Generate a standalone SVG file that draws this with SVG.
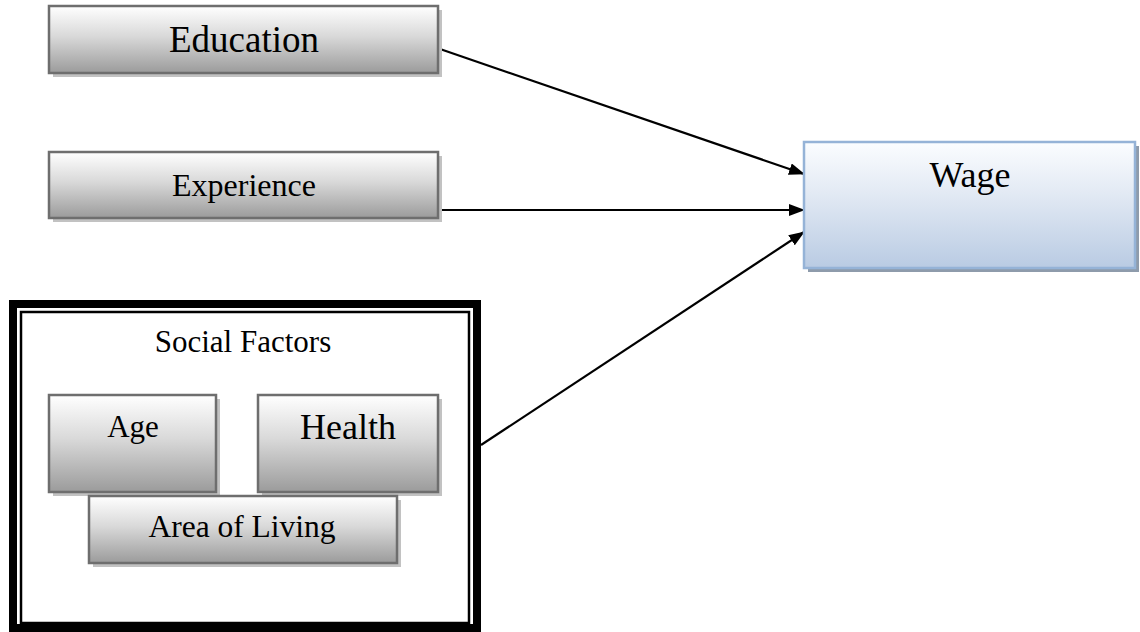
<svg xmlns="http://www.w3.org/2000/svg" width="1140" height="632" viewBox="0 0 1140 632">
<style>
.box{fill:url(#grey);stroke:#6e6e6e;stroke-width:2.5}
.shadow{fill:#c2c2c2}
.wage{fill:url(#blue);stroke:#95b3d7;stroke-width:2.5}
.wshadow{fill:#8e9bab}
text{font-family:"Liberation Serif","Times New Roman",serif;fill:#000;text-anchor:middle}
.conn{stroke:#000;stroke-width:2.2;fill:none;marker-end:url(#arrow)}
</style>
<defs>
<linearGradient id="grey" x1="0" y1="0" x2="0" y2="1">
<stop offset="0" stop-color="#ffffff"/>
<stop offset="0.45" stop-color="#d9d9d9"/>
<stop offset="1" stop-color="#9b9b9b"/>
</linearGradient>
<linearGradient id="blue" x1="0" y1="0" x2="0" y2="1">
<stop offset="0" stop-color="#fbfdff"/>
<stop offset="0.4" stop-color="#e3eaf4"/>
<stop offset="1" stop-color="#b9cbe3"/>
</linearGradient>
<marker id="arrow" markerWidth="16" markerHeight="12" refX="15" refY="6" orient="auto" markerUnits="userSpaceOnUse">
<path d="M0,0 L16,6 L0,12 Z" fill="#000"/>
</marker>
</defs>
<g id="connectors">
<line class="conn" x1="440" y1="49" x2="804" y2="174"/>
<line class="conn" x1="440" y1="210" x2="804" y2="210"/>
<line class="conn" x1="481" y1="445" x2="804" y2="232"/>
</g>
<g id="education">
<rect class="shadow" x="53" y="10" width="389" height="67"/>
<rect class="box" x="49" y="6" width="389" height="67"/>
<text x="244" y="52" font-size="37">Education</text>
</g>
<g id="experience">
<rect class="shadow" x="53" y="156" width="389" height="66"/>
<rect class="box" x="49" y="152" width="389" height="66"/>
<text x="244" y="196" font-size="32">Experience</text>
</g>
<g id="wage">
<rect class="wshadow" x="808" y="146" width="331" height="126"/>
<rect class="wage" x="804" y="142" width="331" height="126"/>
<text x="970" y="187" font-size="36">Wage</text>
</g>
<g id="social-factors">
<rect x="13" y="304" width="464" height="324" fill="#fff" stroke="#000" stroke-width="8"/>
<rect x="21" y="312" width="448" height="311" fill="none" stroke="#000" stroke-width="2.5"/>
<text x="243" y="352" font-size="31">Social Factors</text>
</g>
<g id="age">
<rect class="shadow" x="53" y="399" width="167" height="97"/>
<rect class="box" x="49" y="395" width="167" height="97"/>
<text x="133" y="437" font-size="31">Age</text>
</g>
<g id="health">
<rect class="shadow" x="262" y="399" width="180" height="97"/>
<rect class="box" x="258" y="395" width="180" height="97"/>
<text x="348" y="439" font-size="36">Health</text>
</g>
<g id="area-of-living">
<rect class="shadow" x="93" y="500" width="308" height="67"/>
<rect class="box" x="89" y="496" width="308" height="67"/>
<text x="242" y="537" font-size="31.5">Area of Living</text>
</g>
</svg>
